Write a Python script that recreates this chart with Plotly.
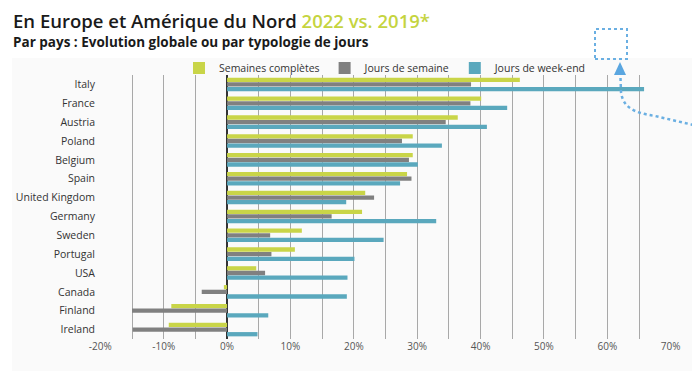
import plotly.graph_objects as go

countries = ["Italy", "France", "Austria", "Poland", "Belgium", "Spain", "United Kingdom",
             "Germany", "Sweden", "Portugal", "USA", "Canada", "Finland", "Ireland"]
semaines_completes = [46.2, 40.1, 36.4, 29.3, 29.3, 28.4, 21.8, 21.3, 11.8, 10.7, 4.6, -0.5, -8.8, -9.2]
jours_semaine = [38.5, 38.4, 34.5, 27.6, 28.7, 29.1, 23.2, 16.5, 6.8, 7.0, 6.0, -4.0, -15.0, -14.9]
jours_weekend = [65.8, 44.2, 41.0, 33.9, 30.1, 27.3, 18.8, 33.0, 24.7, 20.1, 19.0, 18.9, 6.5, 4.8]

series_names = ["Semaines complètes", "Jours de semaine", "Jours de week-end"]
colors = ["#c9d548", "#808080", "#5aa8bd"]

tick_vals = list(range(-20, 75, 5))
tick_text = [f"{v}%" if v % 10 == 0 else "" for v in tick_vals]

FONT = "Open Sans"

fig = go.Figure()
for name, vals, col in zip(series_names, [semaines_completes, jours_semaine, jours_weekend], colors):
    fig.add_trace(go.Bar(
        y=countries, x=vals, name=name, orientation="h",
        marker=dict(color=col, line=dict(width=0)),
    ))

# page has an 8px body margin; target plot area on screen: x 100..671, y 75..339
O = 8
W, H = 700, 371
L, T = 100 - O, 75 - O
R, B = W - (671 - O), H - (339 - O)
pw, ph = W - L - R, H - T - B

def px(x):
    return (x - O - L) / pw

def py(y):
    return (H - B - (y - O)) / ph

shapes = []
# light panel background
shapes.append(dict(type="rect", xref="paper", yref="paper", layer="below",
                   x0=px(12), x1=px(700), y0=py(375), y1=py(58),
                   fillcolor="#fafafa", line=dict(width=0)))
# dotted box (decoration)
shapes.append(dict(type="rect", xref="paper", yref="paper",
                   x0=px(595), x1=px(627), y0=py(59), y1=py(29),
                   line=dict(color="#6aafe2", width=2, dash="dot")))
# arrow head
shapes.append(dict(type="path", xref="paper", yref="paper",
                   path=f"M {px(620)},{py(62)} L {px(614)},{py(75)} L {px(626)},{py(75)} Z",
                   fillcolor="#5aa6e0", line=dict(width=0)))
# dotted curve
shapes.append(dict(type="path", xref="paper", yref="paper",
                   path=(f"M {px(620.5)},{py(78)} L {px(621)},{py(92)} "
                         f"C {px(623)},{py(108)} {px(635)},{py(113)} {px(655)},{py(116)} "
                         f"L {px(702)},{py(127)}"),
                   line=dict(color="#6aafe2", width=2.5, dash="dot")))

annotations = [
    dict(xref="paper", yref="paper", x=px(11), y=py(20.5), xanchor="left", yanchor="middle",
         showarrow=False,
         text="En Europe et Amérique du Nord <span style='color:#c5d43f'>2022 vs. 2019*</span>",
         font=dict(family=FONT, size=18.5, color="#1a1a1a", weight=600)),
    dict(xref="paper", yref="paper", x=px(11), y=py(42), xanchor="left", yanchor="middle",
         showarrow=False,
         text="<b>Par pays : Evolution globale ou par typologie de jours</b>",
         font=dict(family=FONT, size=13.5, color="#1a1a1a")),
]

fig.update_layout(
    width=W, height=H,
    margin=dict(l=L, r=R, t=T, b=B, autoexpand=False),
    paper_bgcolor="white", plot_bgcolor="rgba(0,0,0,0)",
    barmode="group", bargap=0.26, bargroupgap=0.08,
    font=dict(family=FONT, size=10.5, color="#333"),
    showlegend=True,
    legend=dict(orientation="h", x=0.5, xanchor="center", y=py(68), yanchor="middle",
                font=dict(family=FONT, size=10.5, color="#333"), bgcolor="rgba(0,0,0,0)",
                itemwidth=30, traceorder="normal"),
    xaxis=dict(range=[-20.05, 70.05], tickvals=tick_vals, ticktext=tick_text,
               showgrid=True, gridcolor="#a8a8a8", gridwidth=1, automargin=False,
               zeroline=True, zerolinecolor="#333", zerolinewidth=1.5,
               showline=False, ticks="", tickfont=dict(size=10, color="#555"), fixedrange=True),
    yaxis=dict(autorange="reversed", showgrid=False, zeroline=False, showline=False,
               automargin=False,
               ticks="", ticklabelstandoff=4, tickfont=dict(size=10.5, color="#333")),
    shapes=shapes,
    annotations=annotations,
)

fig.write_html("out.html")
